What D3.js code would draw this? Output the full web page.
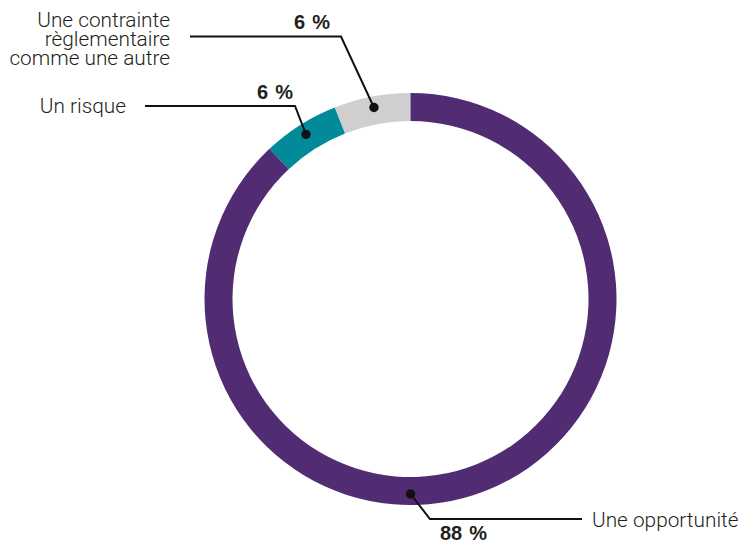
<!DOCTYPE html>
<html>
<head>
<meta charset="utf-8">
<script src="https://cdn.jsdelivr.net/npm/d3@7"></script>
<style>
  html, body { margin: 0; padding: 0; background: #ffffff; }
  svg { display: block; }
  .lbl { font-family: "Roboto", "Liberation Sans", sans-serif; font-weight: 300; fill: #231f20; }
  .pct { font-family: "Liberation Sans", "Roboto", sans-serif; font-weight: 700; fill: #231f20; }
</style>
</head>
<body>
<svg id="chart" width="743" height="542"></svg>
<script>
// Answers, in drawing order (counter-clockwise from 12 o'clock)
const categories = ["Une contrainte règlementaire comme une autre", "Un risque", "Une opportunité"];
const labelLines = [["Une contrainte", "règlementaire", "comme une autre"], ["Un risque"], ["Une opportunité"]];
const values = [6, 6, 88];
const valueLabels = ["6 %", "6 %", "88 %"];
const colors = ["#d0cfd0", "#008a9a", "#522c72"];

const cx = 410.5, cy = 299;
const outerR = 206, innerR = 178, dotR = 195;

const svg = d3.select("#chart");
const g = svg.append("g").attr("transform", `translate(${cx},${cy})`);

const pie = d3.pie().sort(null).startAngle(0).endAngle(-2 * Math.PI);
const arcs = pie(values);
const arc = d3.arc().innerRadius(innerR).outerRadius(outerR);

g.selectAll("path.slice")
  .data(arcs)
  .join("path")
  .attr("class", "slice")
  .attr("d", arc)
  .attr("fill", (d, i) => colors[i]);

// Leader layout, relative to the ring centre
const leaders = [
  { anchorAngle: null, elbow: [-69.5, -262.5], end: -220.5, side: "left",
    pctDx: -11, pctDy: -7.5, textGap: 20, firstBaseline: -10 },
  { anchorAngle: null, elbow: [-115.5, -193], end: -265.5, side: "left",
    pctDx: -2, pctDy: -7, textGap: 19, firstBaseline: 6.5 },
  { anchorAngle: -Math.PI, elbow: [19.5, 220], end: 171.5, side: "right",
    pctDx: 10, pctDy: 20.5, textGap: 10, firstBaseline: 7.5 }
];

arcs.forEach((d, i) => {
  const L = leaders[i];
  const a = L.anchorAngle !== null ? L.anchorAngle : (d.startAngle + d.endAngle) / 2;
  const px = dotR * Math.sin(a), py = -dotR * Math.cos(a);
  const [ex, ey] = L.elbow;
  const left = L.side === "left";

  g.append("path")
    .attr("d", d3.line()([[px, py], [ex, ey], [L.end, ey]]))
    .attr("fill", "none")
    .attr("stroke", "#111")
    .attr("stroke-width", 2);

  g.append("circle")
    .attr("cx", px).attr("cy", py).attr("r", 4.7)
    .attr("fill", "#111");

  // percentage
  g.append("text")
    .attr("class", "pct")
    .attr("x", ex + L.pctDx)
    .attr("y", ey + L.pctDy)
    .attr("text-anchor", left ? "end" : "start")
    .attr("font-size", 20)
    .attr("word-spacing", 1.5)
    .text(valueLabels[i]);

  // category label
  const lines = labelLines[i];
  const lh = 19.3;
  const t = g.append("text")
    .attr("class", "lbl")
    .attr("font-size", 20.8)
    .attr("text-anchor", left ? "end" : "start");
  const x0 = left ? L.end - L.textGap : L.end + L.textGap;
  lines.forEach((s, k) => {
    t.append("tspan").attr("x", x0).attr("y", ey + L.firstBaseline + k * lh).text(s);
  });
});
</script>
</body>
</html>
